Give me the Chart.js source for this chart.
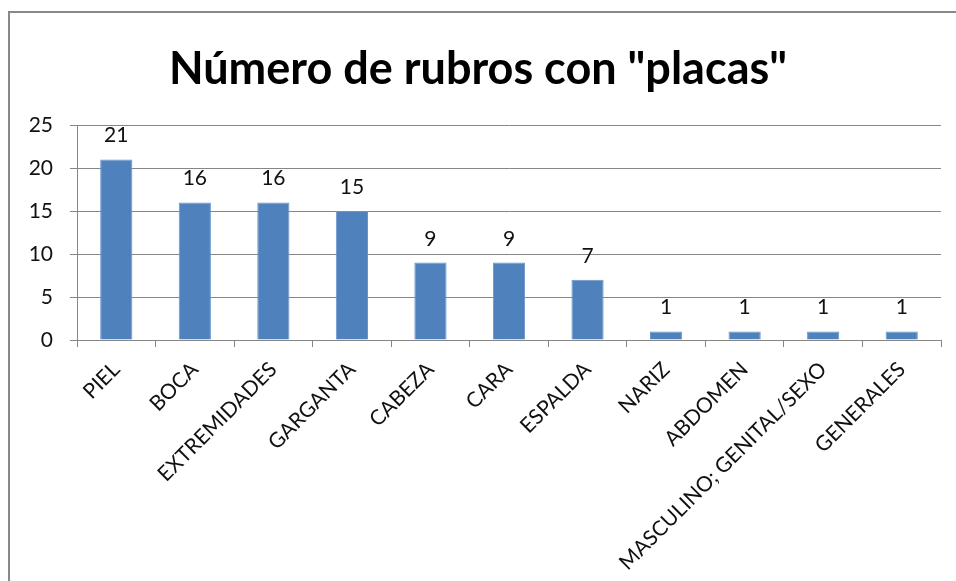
<!DOCTYPE html>
<html>
<head>
<meta charset="utf-8">
<script src="https://cdn.jsdelivr.net/npm/chart.js@4.4.1/dist/chart.umd.min.js"></script>
<style>
  html, body { margin: 0; padding: 0; background: #fff; }
  #wrap { position: relative; width: 956px; height: 581px; overflow: hidden; }
  #frame { position: absolute; left: 8px; top: 11px; width: 1000px; height: 700px;
           border-left: 2px solid #888; border-top: 2px solid #888; }
  canvas { position: absolute; left: 0; top: 0; }
</style>
</head>
<body>
<div id="wrap">
  <div id="frame"></div>
  <canvas id="c" width="956" height="581"></canvas>
</div>
<script>
const categories = ["PIEL", "BOCA", "EXTREMIDADES", "GARGANTA", "CABEZA", "CARA", "ESPALDA", "NARIZ", "ABDOMEN", "MASCULINO; GENITAL/SEXO", "GENERALES"];
const values = [21, 16, 16, 15, 9, 9, 7, 1, 1, 1, 1];
const titleText = 'Número de rubros con "placas"';
const yMin = 0, yMax = 25, yStep = 5;

const FONT = "Lato, 'Open Sans', sans-serif";

const valueLabels = {
  id: 'valueLabels',
  afterDatasetsDraw(chart) {
    const ctx = chart.ctx;
    const meta = chart.getDatasetMeta(0);
    ctx.save();
    ctx.font = "21px " + FONT;
    ctx.fillStyle = "#111";
    ctx.textAlign = "center";
    ctx.textBaseline = "alphabetic";
    meta.data.forEach((bar, i) => {
      ctx.fillText(String(values[i]), bar.x, bar.y - 17);
    });
    ctx.restore();
  }
};

new Chart(document.getElementById('c'), {
  type: 'bar',
  data: {
    labels: categories,
    datasets: [{
      data: values,
      backgroundColor: '#4F81BD',
      borderColor: '#6A95C9',
      borderWidth: 1,
      categoryPercentage: 1,
      barPercentage: 0.41
    }]
  },
  options: {
    responsive: false,
    animation: false,
    devicePixelRatio: 1,
    layout: { padding: { left: 15, right: 15, top: 0, bottom: 0 } },
    plugins: {
      legend: { display: false },
      tooltip: { enabled: false },
      title: {
        display: true,
        text: titleText,
        color: '#000',
        font: { family: FONT, size: 45, weight: 'bold' },
        padding: { top: 42, bottom: 29 }
      }
    },
    scales: {
      x: {
        grid: { drawOnChartArea: false, drawTicks: true, tickLength: 7, color: '#868686' },
        border: { color: '#868686', width: 1 },
        ticks: {
          color: '#111',
          font: { family: FONT, size: 21 },
          minRotation: 45, maxRotation: 45,
          autoSkip: false,
          padding: 10
        },
        afterFit(scale) { scale.height = 241; scale.paddingLeft = 0; scale.paddingRight = 0; }
      },
      y: {
        min: yMin, max: yMax,
        grid: { color: '#868686', tickLength: 7 },
        border: { color: '#868686', width: 1 },
        ticks: {
          stepSize: yStep,
          color: '#111',
          font: { family: FONT, size: 21 },
          padding: 17
        },
        afterFit(scale) { scale.width = 62; }
      }
    }
  },
  plugins: [valueLabels]
});
</script>
</body>
</html>
